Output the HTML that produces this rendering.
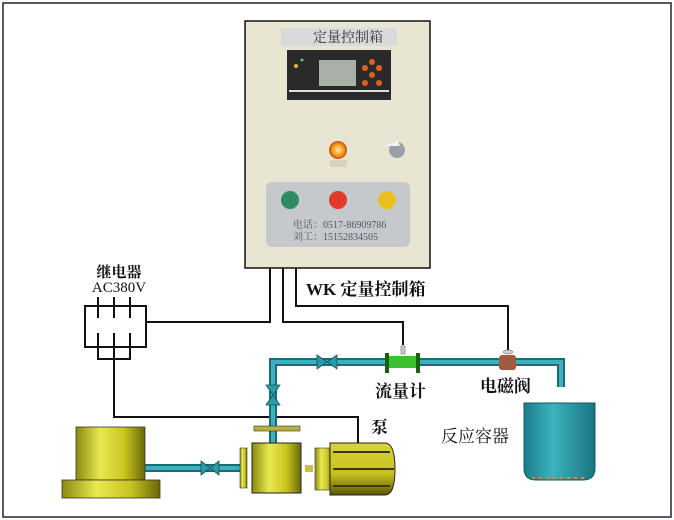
<!DOCTYPE html>
<html><head><meta charset="utf-8"><style>
html,body{margin:0;padding:0;background:#fff}
svg{display:block}
text{font-family:"Liberation Serif","Noto Serif CJK SC","Noto Sans CJK SC",serif}
</style></head><body>
<svg width="674" height="520" viewBox="0 0 674 520" xmlns="http://www.w3.org/2000/svg">
<defs>
<linearGradient id="yel" x1="0" x2="1" y1="0" y2="0">
<stop offset="0" stop-color="#8a8a10"/><stop offset="0.35" stop-color="#e8e850"/><stop offset="0.7" stop-color="#c8c420"/><stop offset="1" stop-color="#6a6808"/></linearGradient>
<linearGradient id="yelv" x1="0" x2="0" y1="0" y2="1">
<stop offset="0" stop-color="#d8d440"/><stop offset="0.6" stop-color="#c8c020"/><stop offset="1" stop-color="#5a5806"/></linearGradient>
<linearGradient id="teal" x1="0" x2="1"><stop offset="0" stop-color="#1a7c88"/><stop offset="0.4" stop-color="#3cb4be"/><stop offset="1" stop-color="#1a7480"/></linearGradient>
<radialGradient id="org"><stop offset="0" stop-color="#ffe8a0"/><stop offset="0.6" stop-color="#f8a020"/><stop offset="1" stop-color="#b85010"/></radialGradient>
</defs>
<rect x="3" y="3" width="668" height="514" fill="#fff" stroke="#223" stroke-width="1.5"/>

<!-- cabinet -->
<rect x="245" y="21" width="185" height="247" fill="#e8e5d2" stroke="#111" stroke-width="1.5"/>
<rect x="281" y="28" width="116" height="18" fill="#d8dadc"/>
<text x="313" y="42" font-size="14" fill="#333" font-family="Liberation Sans,Noto Sans CJK SC,sans-serif">定量控制箱</text>
<rect x="287" y="50" width="104" height="50" fill="#2a2a2a"/>
<rect x="319" y="60" width="37" height="26" fill="#a8b0a8"/>
<circle cx="296" cy="66" r="2" fill="#f8b030"/><circle cx="302" cy="60" r="1.5" fill="#6c6"/>
<circle cx="372" cy="62" r="3" fill="#e06020"/><circle cx="365" cy="68" r="3" fill="#e06020"/><circle cx="379" cy="68" r="3" fill="#e06020"/><circle cx="372" cy="75" r="3" fill="#e06020"/><circle cx="365" cy="83" r="3" fill="#e06020"/><circle cx="379" cy="83" r="3" fill="#e06020"/>
<rect x="289" y="90" width="100" height="2" fill="#ddd"/>
<circle cx="338" cy="150" r="9" fill="url(#org)"/>
<rect x="330" y="160" width="17" height="7" fill="#d8d0c0"/>
<circle cx="397" cy="150" r="8" fill="#9aa0a4"/><path d="M383 146 L398 141 L400 146 Z" fill="#f4f4f4"/>
<rect x="266" y="182" width="144" height="65" rx="6" fill="#c6c9cb"/>
<circle cx="290" cy="200" r="9" fill="#2f8c60"/><circle cx="338" cy="200" r="9" fill="#e03a28"/><circle cx="387" cy="200" r="9" fill="#e8c020"/>
<text x="293" y="228" font-size="10" fill="#556">电话：0517-86909786</text>
<text x="293" y="240" font-size="10" fill="#556">刘工：15152834505</text>

<!-- wires -->
<g fill="none" stroke="#111" stroke-width="2">
<polyline points="270,268 270,322 146,322"/>
<polyline points="283,268 283,322 403,322 403,345"/>
<polyline points="296,268 296,306 508,306 508,350"/>
<rect x="85" y="306" width="61" height="41"/>
<line x1="98" y1="297" x2="98" y2="318"/><line x1="114" y1="297" x2="114" y2="318"/><line x1="130" y1="297" x2="130" y2="318"/>
<polyline points="98,333 98,359 130,359 130,333"/><line x1="114" y1="333" x2="114" y2="359"/>
<polyline points="114,359 114,417 358,417 358,443"/>
</g>
<text x="306" y="295" font-size="17" font-weight="bold" fill="#111">WK 定量控制箱</text>
<text x="119" y="277" font-size="15" font-weight="bold" text-anchor="middle" fill="#111">继电器</text>
<text x="119" y="292" font-size="15" text-anchor="middle" fill="#111">AC380V</text>

<!-- pipes -->
<g fill="none" stroke="#1a6c78" stroke-width="8" stroke-linejoin="miter"><polyline points="273,443 273,362 561,362 561,387"/><line x1="145" y1="468" x2="240" y2="468"/></g>
<g fill="none" stroke="#3cb0bc" stroke-width="4" stroke-linejoin="miter"><polyline points="273,443 273,362 561,362 561,387"/><line x1="145" y1="468" x2="240" y2="468"/></g>
<path d="M317 355 L327 362 L317 369 Z M337 355 L327 362 L337 369 Z" fill="#2a9aa8" stroke="#155" stroke-width="0.8"/>
<path d="M266 385 L273 395 L280 385 Z M266 405 L273 395 L280 405 Z" fill="#2a9aa8" stroke="#155" stroke-width="0.8"/>
<path d="M201 461 L210 468 L201 475 Z M219 461 L210 468 L219 475 Z" fill="#2a9aa8" stroke="#155" stroke-width="0.8"/>
<rect x="388" y="356" width="29" height="12" fill="#3cc030"/>
<rect x="385" y="353" width="4" height="20" fill="#1a6010"/><rect x="416" y="353" width="4" height="20" fill="#1a6010"/>
<rect x="401" y="346" width="4" height="8" fill="#ccc" stroke="#555" stroke-width="0.5"/>
<rect x="499" y="355" width="17" height="15" rx="3" fill="#a05a40"/><ellipse cx="508" cy="352" rx="5" ry="2" fill="#ccc" stroke="#666" stroke-width="0.5"/>

<!-- labels -->
<text x="375" y="397" font-size="17" font-weight="bold" fill="#111">流量计</text>
<text x="480" y="392" font-size="17" font-weight="bold" fill="#111">电磁阀</text>
<text x="371" y="433" font-size="17" font-weight="bold" fill="#111">泵</text>
<text x="441" y="442" font-size="17" fill="#111">反应容器</text>

<!-- tank -->
<path d="M524 403 H595 V468 Q595 480 583 480 H536 Q524 480 524 468 Z" fill="url(#teal)" stroke="#0f5860"/>
<path d="M532 478 H588" stroke="#f08040" stroke-width="2" stroke-dasharray="3 4"/>

<!-- left yellow tank -->
<rect x="76" y="427" width="69" height="53" fill="url(#yel)" stroke="#333" stroke-width="0.8"/>
<rect x="62" y="480" width="98" height="18" fill="url(#yel)" stroke="#333" stroke-width="0.8"/>

<!-- pump -->
<rect x="254" y="426" width="46" height="5" fill="#b8b040" stroke="#333" stroke-width="0.6"/>
<rect x="240" y="448" width="7" height="40" fill="url(#yel)" stroke="#333" stroke-width="0.6"/>
<rect x="252" y="443" width="49" height="50" fill="url(#yel)" stroke="#222"/>
<rect x="305" y="465" width="8" height="7" fill="#c8c040"/>
<rect x="315" y="448" width="18" height="42" fill="url(#yel)" stroke="#333" stroke-width="0.6"/>
<path d="M330 443 H385 Q395 443 395 469 Q395 495 385 495 H330 Z" fill="url(#yelv)" stroke="#222"/>
<g stroke="#3a3806" stroke-width="2"><line x1="333" y1="452" x2="390" y2="452"/><line x1="333" y1="469" x2="394" y2="469"/><line x1="333" y1="486" x2="390" y2="486"/></g>
</svg>
</body></html>
